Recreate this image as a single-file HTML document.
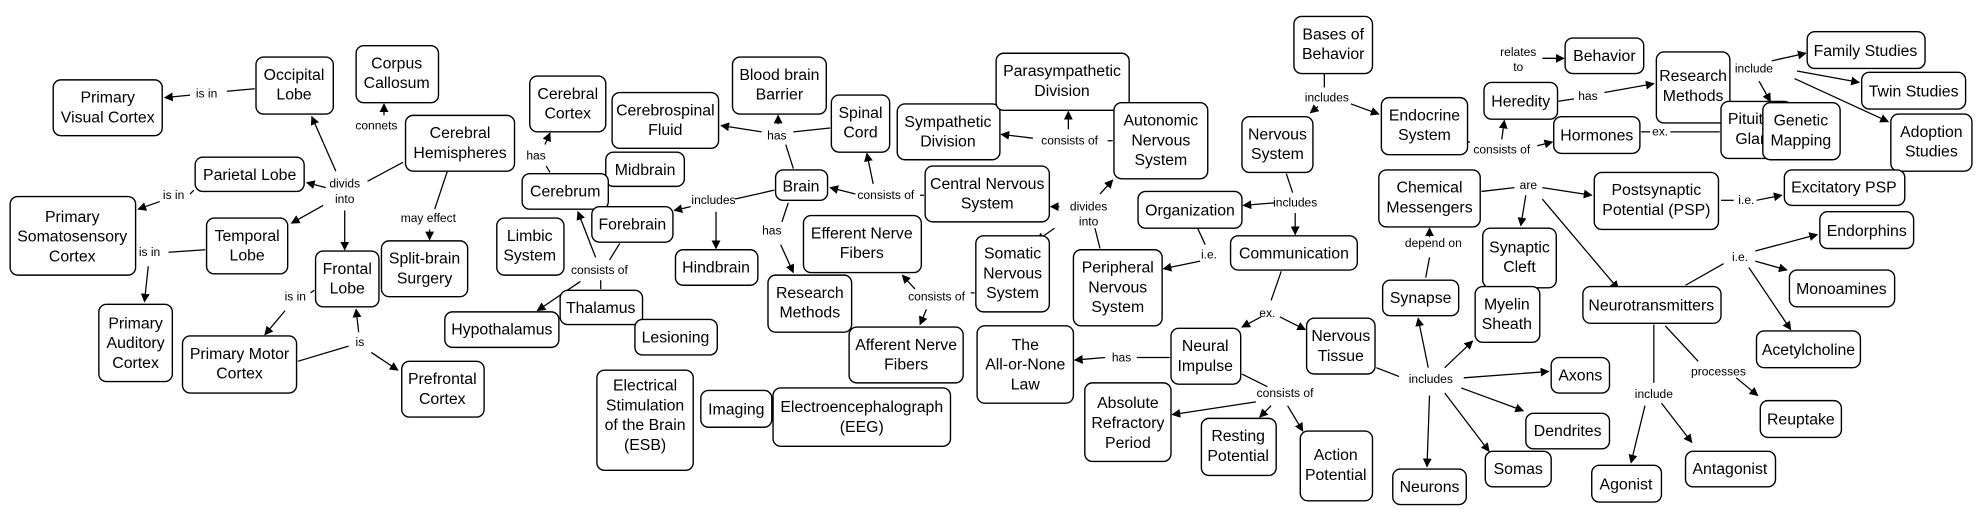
<!DOCTYPE html>
<html><head><meta charset="utf-8"><style>
html,body{margin:0;padding:0;background:#fff;}
svg{display:block;}
text{font-family:"Liberation Sans",Arial,sans-serif;fill:#000;}
.n{font-size:12.5px;text-anchor:middle;}
.l{font-size:9.5px;text-anchor:middle;}
rect{fill:#fff;stroke:#000;stroke-width:1.1;}
line{stroke:#000;stroke-width:1;}
</style></head><body>
<svg width="1977" height="516" viewBox="0 0 1560 407" preserveAspectRatio="none" xmlns="http://www.w3.org/2000/svg">
<defs><marker id="a" viewBox="0 0 10 10" refX="9" refY="5" markerWidth="7" markerHeight="7" orient="auto"><path d="M0,0L10,5L0,10z" fill="#000"/></marker></defs>
<g>
<!-- connectors -->
<line x1="201" y1="70" x2="179" y2="72"/><line x1="150" y1="75" x2="130" y2="77" marker-end="url(#a)"/>
<line x1="318" y1="128" x2="290" y2="143"/>
<line x1="265" y1="135" x2="246" y2="92" marker-end="url(#a)"/>
<line x1="257" y1="148" x2="242" y2="144" marker-end="url(#a)"/>
<line x1="255" y1="162" x2="230" y2="176" marker-end="url(#a)"/>
<line x1="272" y1="166" x2="272" y2="197" marker-end="url(#a)"/>
<line x1="153" y1="150" x2="150" y2="153"/><line x1="126" y1="159" x2="109" y2="165" marker-end="url(#a)"/>
<line x1="162" y1="197" x2="133" y2="199"/><line x1="117" y1="210" x2="114" y2="238" marker-end="url(#a)"/>
<line x1="248" y1="229" x2="245" y2="231"/><line x1="225" y1="245" x2="209" y2="264" marker-end="url(#a)"/>
<line x1="235" y1="285" x2="275" y2="273"/>
<line x1="283" y1="262" x2="281" y2="244" marker-end="url(#a)"/>
<line x1="293" y1="278" x2="314" y2="292" marker-end="url(#a)"/>
<line x1="303" y1="91" x2="303" y2="82" marker-end="url(#a)"/>
<line x1="353" y1="135" x2="343" y2="165"/><line x1="339" y1="181" x2="339" y2="189" marker-end="url(#a)"/>
<line x1="434" y1="136" x2="431" y2="131"/><line x1="430" y1="114" x2="434" y2="105" marker-end="url(#a)"/>
<line x1="489" y1="192" x2="481" y2="205"/>
<line x1="470" y1="203" x2="456" y2="167" marker-end="url(#a)"/>
<line x1="458" y1="222" x2="424" y2="245" marker-end="url(#a)"/>
<line x1="474" y1="221" x2="474" y2="228"/>
<line x1="611" y1="150" x2="580" y2="157"/>
<line x1="545" y1="163" x2="532" y2="166" marker-end="url(#a)"/>
<line x1="565" y1="167" x2="565" y2="196" marker-end="url(#a)"/>
<line x1="626" y1="133" x2="620" y2="114"/><line x1="655" y1="101" x2="626" y2="104"/>
<line x1="601" y1="104" x2="569" y2="99" marker-end="url(#a)"/>
<line x1="614" y1="98" x2="614" y2="91" marker-end="url(#a)"/>
<line x1="622" y1="160" x2="617" y2="175"/><line x1="616" y1="193" x2="626" y2="215" marker-end="url(#a)"/>
<line x1="729" y1="154" x2="726" y2="154"/>
<line x1="675" y1="153" x2="655" y2="148" marker-end="url(#a)"/>
<line x1="689" y1="145" x2="684" y2="121" marker-end="url(#a)"/>
<line x1="769" y1="231" x2="766" y2="231"/>
<line x1="722" y1="228" x2="712" y2="217" marker-end="url(#a)"/>
<line x1="731" y1="244" x2="726" y2="256" marker-end="url(#a)"/>
<line x1="878" y1="111" x2="874" y2="111"/>
<line x1="815" y1="109" x2="790" y2="106" marker-end="url(#a)"/>
<line x1="843" y1="102" x2="843" y2="88" marker-end="url(#a)"/>
<line x1="868" y1="196" x2="864" y2="180"/>
<line x1="868" y1="153" x2="878" y2="142" marker-end="url(#a)"/>
<line x1="836" y1="163" x2="829" y2="163" marker-end="url(#a)"/>
<line x1="832" y1="180" x2="818" y2="190" marker-end="url(#a)"/>
<line x1="1015" y1="137" x2="1020" y2="152"/>
<line x1="1006" y1="160" x2="981" y2="162" marker-end="url(#a)"/>
<line x1="1022" y1="168" x2="1022" y2="185" marker-end="url(#a)"/>
<line x1="945" y1="180" x2="951" y2="193"/><line x1="947" y1="206" x2="918" y2="212" marker-end="url(#a)"/>
<line x1="1011" y1="214" x2="1003" y2="237"/>
<line x1="995" y1="250" x2="980" y2="258" marker-end="url(#a)"/>
<line x1="1010" y1="250" x2="1030" y2="260" marker-end="url(#a)"/>
<line x1="923" y1="282" x2="897" y2="282"/><line x1="872" y1="282" x2="848" y2="284" marker-end="url(#a)"/>
<line x1="980" y1="295" x2="1000" y2="305"/>
<line x1="991" y1="317" x2="925" y2="327" marker-end="url(#a)"/>
<line x1="1003" y1="320" x2="994" y2="329" marker-end="url(#a)"/>
<line x1="1016" y1="320" x2="1028" y2="340" marker-end="url(#a)"/>
<line x1="1045" y1="58" x2="1045" y2="69"/>
<line x1="1040" y1="84" x2="1034" y2="89" marker-end="url(#a)"/>
<line x1="1066" y1="82" x2="1088" y2="90" marker-end="url(#a)"/>
<line x1="1158" y1="112" x2="1160" y2="112"/>
<line x1="1185" y1="110" x2="1187" y2="95" marker-end="url(#a)"/>
<line x1="1213" y1="115" x2="1225" y2="112" marker-end="url(#a)"/>
<line x1="1217" y1="46" x2="1234" y2="46" marker-end="url(#a)"/>
<line x1="1229" y1="80" x2="1242" y2="78"/><line x1="1266" y1="73" x2="1305" y2="66" marker-end="url(#a)"/>
<line x1="1398" y1="48" x2="1425" y2="42" marker-end="url(#a)"/>
<line x1="1418" y1="56" x2="1467" y2="65" marker-end="url(#a)"/>
<line x1="1416" y1="62" x2="1490" y2="96" marker-end="url(#a)"/>
<line x1="1388" y1="64" x2="1397" y2="80" marker-end="url(#a)"/>
<line x1="1295" y1="104" x2="1302" y2="104"/><line x1="1318" y1="104" x2="1357" y2="104"/>
<line x1="1169" y1="151" x2="1195" y2="148"/>
<line x1="1217" y1="148" x2="1256" y2="154" marker-end="url(#a)"/>
<line x1="1204" y1="154" x2="1200" y2="178" marker-end="url(#a)"/>
<line x1="1217" y1="157" x2="1277" y2="228" marker-end="url(#a)"/>
<line x1="1358" y1="158" x2="1368" y2="158"/><line x1="1386" y1="158" x2="1406" y2="154" marker-end="url(#a)"/>
<line x1="1125" y1="219" x2="1128" y2="203"/><line x1="1128" y1="187" x2="1128" y2="180" marker-end="url(#a)"/>
<line x1="1086" y1="290" x2="1104" y2="297"/>
<line x1="1127" y1="290" x2="1119" y2="251" marker-end="url(#a)"/>
<line x1="1140" y1="290" x2="1162" y2="269" marker-end="url(#a)"/>
<line x1="1155" y1="298" x2="1222" y2="293" marker-end="url(#a)"/>
<line x1="1153" y1="306" x2="1202" y2="324" marker-end="url(#a)"/>
<line x1="1140" y1="310" x2="1175" y2="356" marker-end="url(#a)"/>
<line x1="1128" y1="312" x2="1126" y2="368" marker-end="url(#a)"/>
<line x1="1330" y1="225" x2="1360" y2="208"/>
<line x1="1385" y1="198" x2="1434" y2="185" marker-end="url(#a)"/>
<line x1="1385" y1="206" x2="1410" y2="213" marker-end="url(#a)"/>
<line x1="1380" y1="211" x2="1413" y2="260" marker-end="url(#a)"/>
<line x1="1314" y1="257" x2="1340" y2="285"/><line x1="1370" y1="298" x2="1387" y2="312" marker-end="url(#a)"/>
<line x1="1305" y1="256" x2="1305" y2="302"/>
<line x1="1298" y1="320" x2="1287" y2="365" marker-end="url(#a)"/>
<line x1="1311" y1="318" x2="1335" y2="349" marker-end="url(#a)"/>
</g>
<!-- link labels -->
<g class="l">
<text class="l" x="163" y="77">is in</text>
<text class="l" x="272" y="148">divids</text><text class="l" x="272" y="160">into</text>
<text class="l" x="137" y="157">is in</text>
<text class="l" x="118" y="202">is in</text>
<text class="l" x="233" y="237">is in</text>
<text class="l" x="284" y="273">is</text>
<text class="l" x="297" y="102">connets</text>
<text class="l" x="338" y="175">may effect</text>
<text class="l" x="423" y="126">has</text>
<text class="l" x="473" y="216">consists of</text>
<text class="l" x="563" y="161">includes</text>
<text class="l" x="613" y="110">has</text>
<text class="l" x="609" y="185">has</text>
<text class="l" x="699" y="157">consists of</text>
<text class="l" x="739" y="237">consists of</text>
<text class="l" x="844" y="114">consists of</text>
<text class="l" x="859" y="166">divides</text><text class="l" x="859" y="178">into</text>
<text class="l" x="1022" y="163">includes</text>
<text class="l" x="954" y="204">i.e.</text>
<text class="l" x="1000" y="250">ex.</text>
<text class="l" x="885" y="285">has</text>
<text class="l" x="1014" y="313">consists of</text>
<text class="l" x="1047" y="80">includes</text>
<text class="l" x="1185" y="121">consists of</text>
<text class="l" x="1198" y="44">relates</text><text class="l" x="1198" y="56">to</text>
<text class="l" x="1253" y="79">has</text>
<text class="l" x="1384" y="57">include</text>
<text class="l" x="1310" y="107">ex.</text>
<text class="l" x="1206" y="149">are</text>
<text class="l" x="1378" y="161">i.e.</text>
<text class="l" x="1131" y="195">depend on</text>
<text class="l" x="1129" y="302">includes</text>
<text class="l" x="1373" y="206">i.e.</text>
<text class="l" x="1356" y="296">processes</text>
<text class="l" x="1305" y="314">include</text>
</g>
<!-- nodes -->
<g>
<rect x="42" y="63" width="86" height="44" rx="6"/><text class="n" x="85" y="81">Primary<tspan x="85" dy="15.6">Visual Cortex</tspan></text>
<rect x="202" y="45" width="61" height="45" rx="6"/><text class="n" x="232" y="63">Occipital<tspan x="232" dy="15.6">Lobe</tspan></text>
<rect x="281" y="36" width="65" height="45" rx="6"/><text class="n" x="313" y="54">Corpus<tspan x="313" dy="15.6">Callosum</tspan></text>
<rect x="320" y="91" width="86" height="44" rx="6"/><text class="n" x="363" y="109">Cerebral<tspan x="363" dy="15.6">Hemispheres</tspan></text>
<rect x="154" y="124" width="86" height="27" rx="6"/><text class="n" x="197" y="142">Parietal Lobe</text>
<rect x="8" y="155" width="99" height="62" rx="6"/><text class="n" x="57" y="175">Primary<tspan x="57" dy="15.6">Somatosensory</tspan><tspan x="57" dy="15.6">Cortex</tspan></text>
<rect x="163" y="172" width="64" height="44" rx="6"/><text class="n" x="195" y="190">Temporal<tspan x="195" dy="15.6">Lobe</tspan></text>
<rect x="249" y="198" width="50" height="44" rx="6"/><text class="n" x="274" y="216">Frontal<tspan x="274" dy="15.6">Lobe</tspan></text>
<rect x="301" y="190" width="68" height="44" rx="6"/><text class="n" x="335" y="208">Split-brain<tspan x="335" dy="15.6">Surgery</tspan></text>
<rect x="78" y="240" width="58" height="61" rx="6"/><text class="n" x="107" y="259">Primary<tspan x="107" dy="15.6">Auditory</tspan><tspan x="107" dy="15.6">Cortex</tspan></text>
<rect x="144" y="265" width="90" height="45" rx="6"/><text class="n" x="189" y="283">Primary Motor<tspan x="189" dy="15.6">Cortex</tspan></text>
<rect x="317" y="285" width="65" height="44" rx="6"/><text class="n" x="349" y="303">Prefrontal<tspan x="349" dy="15.6">Cortex</tspan></text>
<rect x="418" y="60" width="60" height="44" rx="6"/><text class="n" x="448" y="78">Cerebral<tspan x="448" dy="15.6">Cortex</tspan></text>
<rect x="483" y="73" width="84" height="44" rx="6"/><text class="n" x="525" y="91">Cerebrospinal<tspan x="525" dy="15.6">Fluid</tspan></text>
<rect x="478" y="120" width="62" height="27" rx="6"/><text class="n" x="509" y="138">Midbrain</text>
<rect x="412" y="137" width="68" height="28" rx="6"/><text class="n" x="446" y="155">Cerebrum</text>
<rect x="467" y="163" width="64" height="28" rx="6"/><text class="n" x="499" y="181">Forebrain</text>
<rect x="392" y="172" width="53" height="45" rx="6"/><text class="n" x="418" y="190">Limbic<tspan x="418" dy="15.6">System</tspan></text>
<rect x="442" y="229" width="65" height="27" rx="6"/><text class="n" x="474" y="247">Thalamus</text>
<rect x="351" y="246" width="90" height="28" rx="6"/><text class="n" x="396" y="264">Hypothalamus</text>
<rect x="501" y="252" width="65" height="28" rx="6"/><text class="n" x="533" y="270">Lesioning</text>
<rect x="471" y="292" width="76" height="79" rx="6"/><text class="n" x="509" y="308">Electrical<tspan x="509" dy="15.6">Stimulation</tspan><tspan x="509" dy="15.6">of the Brain</tspan><tspan x="509" dy="15.6">(ESB)</tspan></text>
<rect x="553" y="308" width="56" height="29" rx="6"/><text class="n" x="581" y="327">Imaging</text>
<rect x="610" y="306" width="140" height="46" rx="6"/><text class="n" x="680" y="325">Electroencephalograph<tspan x="680" dy="15.6">(EEG)</tspan></text>
<rect x="578" y="45" width="74" height="45" rx="6"/><text class="n" x="615" y="63">Blood brain<tspan x="615" dy="15.6">Barrier</tspan></text>
<rect x="656" y="75" width="46" height="45" rx="6"/><text class="n" x="679" y="93">Spinal<tspan x="679" dy="15.6">Cord</tspan></text>
<rect x="612" y="134" width="41" height="24" rx="6"/><text class="n" x="632" y="151">Brain</text>
<rect x="533" y="197" width="65" height="28" rx="6"/><text class="n" x="565" y="215">Hindbrain</text>
<rect x="606" y="217" width="66" height="45" rx="6"/><text class="n" x="639" y="235">Research<tspan x="639" dy="15.6">Methods</tspan></text>
<rect x="634" y="170" width="93" height="45" rx="6"/><text class="n" x="680" y="188">Efferent Nerve<tspan x="680" dy="15.6">Fibers</tspan></text>
<rect x="670" y="258" width="90" height="44" rx="6"/><text class="n" x="715" y="276">Afferent Nerve<tspan x="715" dy="15.6">Fibers</tspan></text>
<rect x="708" y="82" width="81" height="44" rx="6"/><text class="n" x="748" y="100">Sympathetic<tspan x="748" dy="15.6">Division</tspan></text>
<rect x="786" y="42" width="105" height="45" rx="6"/><text class="n" x="838" y="60">Parasympathetic<tspan x="838" dy="15.6">Division</tspan></text>
<rect x="879" y="81" width="74" height="60" rx="6"/><text class="n" x="916" y="99">Autonomic<tspan x="916" dy="15.6">Nervous</tspan><tspan x="916" dy="15.6">System</tspan></text>
<rect x="730" y="131" width="98" height="44" rx="6"/><text class="n" x="779" y="149">Central Nervous<tspan x="779" dy="15.6">System</tspan></text>
<rect x="770" y="186" width="58" height="60" rx="6"/><text class="n" x="799" y="204">Somatic<tspan x="799" dy="15.6">Nervous</tspan><tspan x="799" dy="15.6">System</tspan></text>
<rect x="847" y="197" width="70" height="60" rx="6"/><text class="n" x="882" y="215">Peripheral<tspan x="882" dy="15.6">Nervous</tspan><tspan x="882" dy="15.6">System</tspan></text>
<rect x="898" y="151" width="82" height="29" rx="6"/><text class="n" x="939" y="170">Organization</text>
<rect x="980" y="92" width="56" height="44" rx="6"/><text class="n" x="1008" y="110">Nervous<tspan x="1008" dy="15.6">System</tspan></text>
<rect x="1021" y="13" width="62" height="45" rx="6"/><text class="n" x="1052" y="31">Bases of<tspan x="1052" dy="15.6">Behavior</tspan></text>
<rect x="971" y="186" width="100" height="27" rx="6"/><text class="n" x="1021" y="204">Communication</text>
<rect x="771" y="257" width="76" height="61" rx="6"/><text class="n" x="809" y="276">The<tspan x="809" dy="15.6">All-or-None</tspan><tspan x="809" dy="15.6">Law</tspan></text>
<rect x="924" y="259" width="55" height="44" rx="6"/><text class="n" x="951" y="277">Neural<tspan x="951" dy="15.6">Impulse</tspan></text>
<rect x="1031" y="251" width="54" height="44" rx="6"/><text class="n" x="1058" y="269">Nervous<tspan x="1058" dy="15.6">Tissue</tspan></text>
<rect x="856" y="302" width="68" height="62" rx="6"/><text class="n" x="890" y="322">Absolute<tspan x="890" dy="15.6">Refractory</tspan><tspan x="890" dy="15.6">Period</tspan></text>
<rect x="948" y="330" width="59" height="45" rx="6"/><text class="n" x="977" y="348">Resting<tspan x="977" dy="15.6">Potential</tspan></text>
<rect x="1026" y="340" width="57" height="55" rx="6"/><text class="n" x="1054" y="363">Action<tspan x="1054" dy="15.6">Potential</tspan></text>
<rect x="1090" y="77" width="68" height="45" rx="6"/><text class="n" x="1124" y="95">Endocrine<tspan x="1124" dy="15.6">System</tspan></text>
<rect x="1171" y="65" width="58" height="29" rx="6"/><text class="n" x="1200" y="84">Heredity</text>
<rect x="1235" y="30" width="62" height="28" rx="6"/><text class="n" x="1266" y="48">Behavior</text>
<rect x="1307" y="41" width="58" height="56" rx="6"/><text class="n" x="1336" y="64">Research<tspan x="1336" dy="15.6">Methods</tspan></text>
<rect x="1226" y="92" width="68" height="29" rx="6"/><text class="n" x="1260" y="111">Hormones</text>
<rect x="1358" y="80" width="56" height="45" rx="6"/><text class="n" x="1386" y="98">Pituitary<tspan x="1386" dy="15.6">Gland</tspan></text>
<rect x="1391" y="81" width="61" height="45" rx="6"/><text class="n" x="1421" y="99">Genetic<tspan x="1421" dy="15.6">Mapping</tspan></text>
<rect x="1426" y="25" width="93" height="29" rx="6"/><text class="n" x="1472" y="44">Family Studies</text>
<rect x="1469" y="57" width="82" height="29" rx="6"/><text class="n" x="1510" y="76">Twin Studies</text>
<rect x="1492" y="90" width="64" height="45" rx="6"/><text class="n" x="1524" y="108">Adoption<tspan x="1524" dy="15.6">Studies</tspan></text>
<rect x="1088" y="134" width="80" height="45" rx="6"/><text class="n" x="1128" y="152">Chemical<tspan x="1128" dy="15.6">Messengers</tspan></text>
<rect x="1258" y="136" width="98" height="45" rx="6"/><text class="n" x="1307" y="154">Postsynaptic<tspan x="1307" dy="15.6">Potential (PSP)</tspan></text>
<rect x="1408" y="134" width="95" height="28" rx="6"/><text class="n" x="1455" y="152">Excitatory PSP</text>
<rect x="1436" y="167" width="74" height="29" rx="6"/><text class="n" x="1473" y="186">Endorphins</text>
<rect x="1170" y="180" width="58" height="47" rx="6"/><text class="n" x="1199" y="199">Synaptic<tspan x="1199" dy="15.6">Cleft</tspan></text>
<rect x="1091" y="221" width="60" height="28" rx="6"/><text class="n" x="1121" y="239">Synapse</text>
<rect x="1164" y="226" width="51" height="44" rx="6"/><text class="n" x="1189" y="244">Myelin<tspan x="1189" dy="15.6">Sheath</tspan></text>
<rect x="1249" y="226" width="109" height="29" rx="6"/><text class="n" x="1303" y="245">Neurotransmitters</text>
<rect x="1412" y="213" width="83" height="29" rx="6"/><text class="n" x="1453" y="232">Monoamines</text>
<rect x="1386" y="261" width="82" height="29" rx="6"/><text class="n" x="1427" y="280">Acetylcholine</text>
<rect x="1224" y="282" width="46" height="28" rx="6"/><text class="n" x="1247" y="300">Axons</text>
<rect x="1204" y="326" width="66" height="28" rx="6"/><text class="n" x="1237" y="344">Dendrites</text>
<rect x="1172" y="356" width="52" height="28" rx="6"/><text class="n" x="1198" y="374">Somas</text>
<rect x="1099" y="370" width="58" height="28" rx="6"/><text class="n" x="1128" y="388">Neurons</text>
<rect x="1389" y="316" width="64" height="29" rx="6"/><text class="n" x="1421" y="335">Reuptake</text>
<rect x="1256" y="367" width="55" height="29" rx="6"/><text class="n" x="1283" y="386">Agonist</text>
<rect x="1330" y="356" width="71" height="28" rx="6"/><text class="n" x="1365" y="374">Antagonist</text>
</g>
</svg>
</body></html>
